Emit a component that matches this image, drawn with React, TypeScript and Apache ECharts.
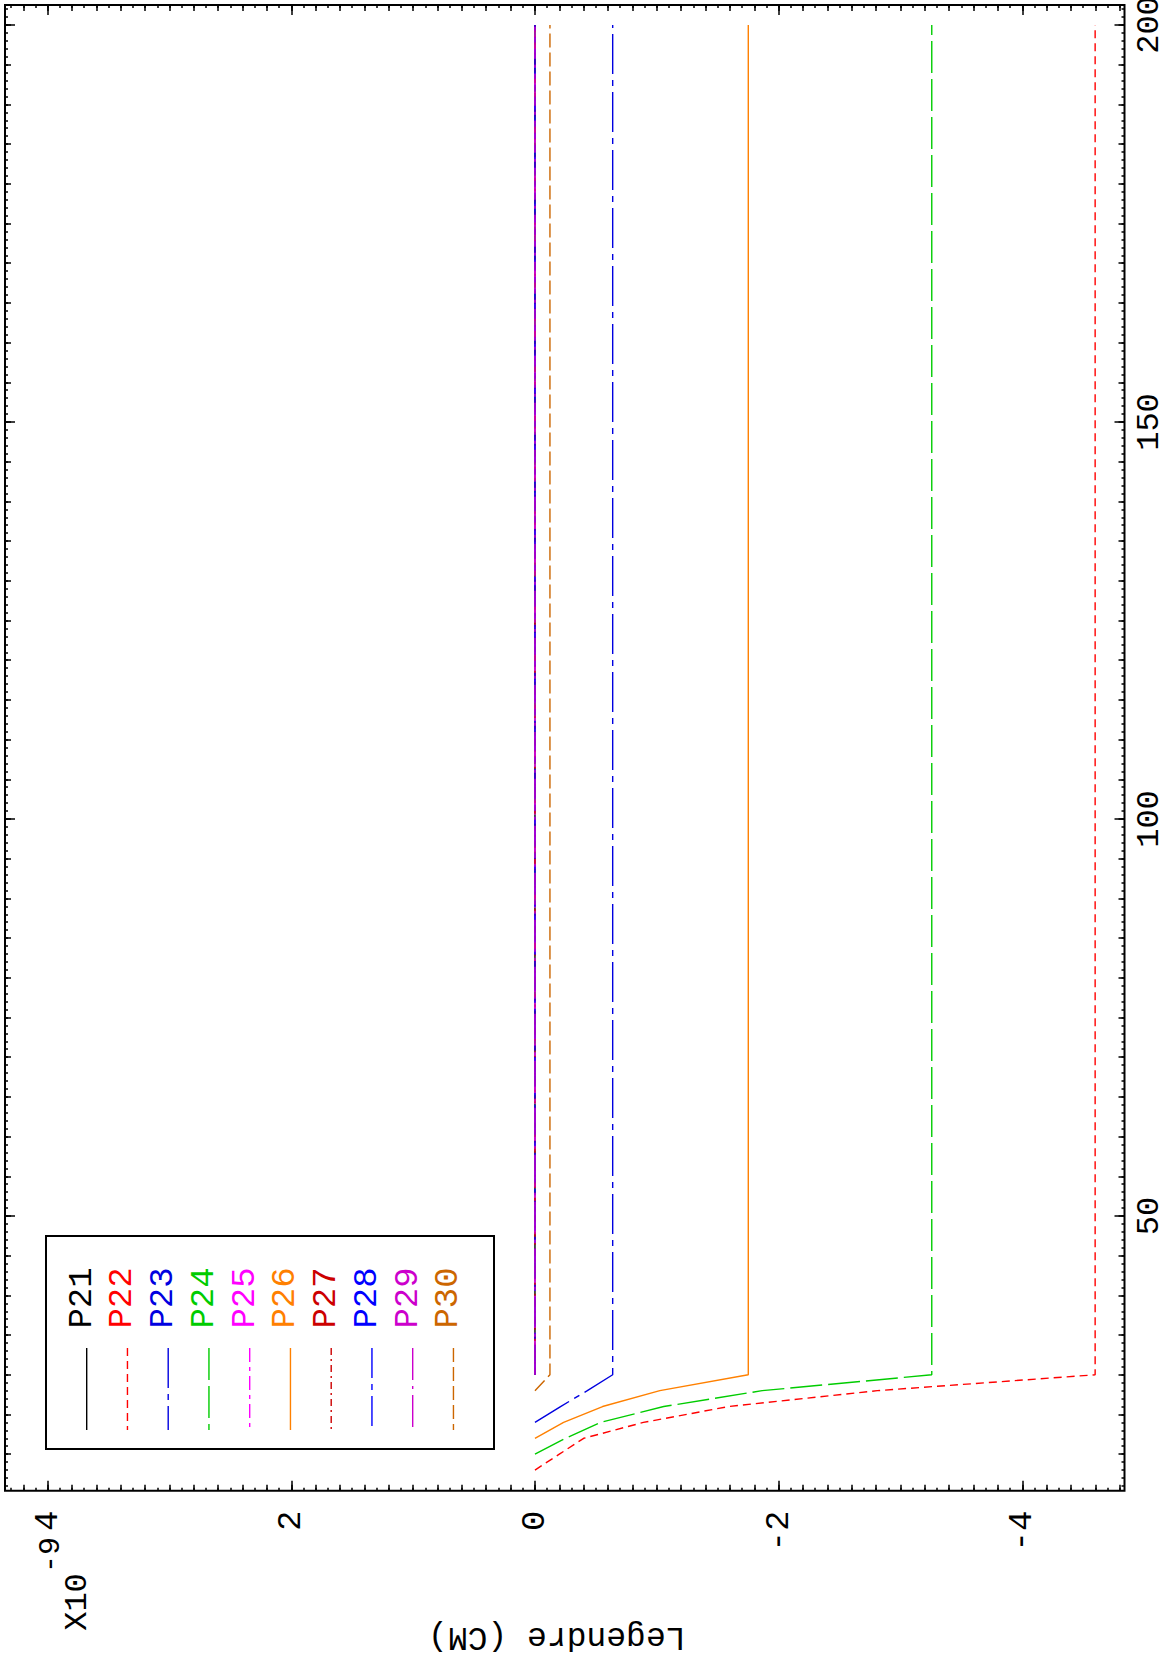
import React, { useEffect, useRef } from 'react';
import * as echarts from 'echarts';

// ---- data (depth in CM on the vertical axis, Legendre value x1e-9 on the horizontal axis)
const DEPTHS = [18, 20, 22, 24, 26, 28, 30, 200];
const P21 = [null, null, null, null, null, null, 0, 0];
const P22 = [0, -0.2, -0.4, -0.89, -1.59, -2.81, -4.598, -4.598];
const P23 = [null, null, null, 0, -0.21, -0.43, -0.638, -0.638];
const P24 = [null, 0, -0.25, -0.538, -1.057, -1.865, -3.257, -3.257];
const P25 = [null, null, null, null, null, null, 0, 0];
const P26 = [null, null, 0, -0.235, -0.555, -1.025, -1.751, -1.751];
const P27 = [null, null, null, null, null, null, 0, 0];
const P28 = [null, null, null, null, null, null, 0, 0];
const P29 = [null, null, null, null, null, null, 0, 0];
const P30 = [null, null, null, null, null, 0, -0.123, -0.123];

const SERIES_NAMES = ['P21', 'P22', 'P23', 'P24', 'P25', 'P26', 'P27', 'P28', 'P29', 'P30'];
const SERIES_VALUES = [P21, P22, P23, P24, P25, P26, P27, P28, P29, P30];
const SERIES_COLORS = ['#000000', '#ff0000', '#0000e0', '#00cc00', '#ff00ff', '#ff8000', '#cc0000', '#0000ff', '#cc00cc', '#cc6600'];
const SERIES_DASH: (number[] | 'solid')[] = [
  'solid', [8, 5], [40, 6, 6, 6], [32, 6], [14, 5, 4, 5], 'solid', [7, 4, 2, 4], [30, 6, 6, 6], [32, 6, 3, 6], [14, 5],
];

const VALUE_TICKS = [-4, -2, 0, 2, 4];
const DEPTH_TICKS = [50, 100, 150, 200];
const VALUE_RANGE = [-4.839, 4.35];
const DEPTH_RANGE = [15.4, 202.52];

const FONT = "'Liberation Mono', 'Courier New', monospace";

function stepTicks(lo: number, hi: number, step: number) {
  const out: number[] = [];
  const s = Math.ceil(lo / step - 1e-9);
  const e = Math.floor(hi / step + 1e-9);
  for (let k = s; k <= e; k++) out.push(+(k * step).toFixed(6));
  return out;
}

function xTickAxis(position: string, values: number[], length: number) {
  return {
    type: 'value', gridIndex: 0, position, inverse: true,
    min: VALUE_RANGE[0], max: VALUE_RANGE[1],
    axisLine: { show: false, onZero: false },
    axisTick: { show: true, inside: true, length, customValues: values, lineStyle: { color: '#000', width: 1.5 } },
    axisLabel: { show: false },
    splitLine: { show: false },
  };
}
function yTickAxis(position: string, values: number[], length: number) {
  return {
    type: 'value', gridIndex: 0, position,
    min: DEPTH_RANGE[0], max: DEPTH_RANGE[1],
    axisLine: { show: false, onZero: false },
    axisTick: { show: true, inside: true, length, customValues: values, lineStyle: { color: '#000', width: 1.5 } },
    axisLabel: { show: false },
    splitLine: { show: false },
  };
}

export default function App() {
  const ref = useRef<HTMLDivElement>(null);
  useEffect(() => {
    if (!ref.current) return;
    const chart = echarts.init(ref.current, undefined, { renderer: 'svg' });

    const vMed = stepTicks(VALUE_RANGE[0], VALUE_RANGE[1], 0.2);
    const vMin = stepTicks(VALUE_RANGE[0], VALUE_RANGE[1], 0.1);
    const dMed = stepTicks(DEPTH_RANGE[0], DEPTH_RANGE[1], 5);
    const dMin = stepTicks(DEPTH_RANGE[0], DEPTH_RANGE[1], 1);

    const mainX: any = xTickAxis('bottom', VALUE_TICKS, 10);
    mainX.axisLabel = {
      show: true, customValues: VALUE_TICKS, rotate: 90, align: 'right', verticalAlign: 'middle',
      margin: 20, padding: [0, 0, 19, 0], fontFamily: FONT, fontSize: 34, color: '#000',
      formatter: (v: number) => String(v),
    };
    mainX.name = 'Legendre (CM)';
    mainX.nameLocation = 'middle';
    mainX.nameGap = 146;
    mainX.nameRotate = 180;
    mainX.nameTextStyle = { fontFamily: FONT, fontSize: 33, color: '#000', align: 'center', verticalAlign: 'middle', padding: [0, 0, 0, 16] };

    const mainY: any = yTickAxis('right', DEPTH_TICKS, 10);
    mainY.axisLabel = {
      show: true, customValues: DEPTH_TICKS, rotate: 90, align: 'center', verticalAlign: 'middle',
      margin: 25, fontFamily: FONT, fontSize: 32, color: '#000',
      formatter: (v: number) => String(v),
    };

    const series = SERIES_NAMES.map((name, i) => {
      const vals = SERIES_VALUES[i];
      const data: number[][] = [];
      DEPTHS.forEach((d, k) => {
        const v = vals[k];
        if (v !== null && v !== undefined) data.push([v, d]);
      });
      return {
        name, type: 'line', xAxisIndex: 0, yAxisIndex: 0, data,
        symbol: 'none', showSymbol: false, smooth: false, clip: false,
        lineStyle: { color: SERIES_COLORS[i], width: 1.4, type: SERIES_DASH[i] },
        emphasis: { disabled: true },
      };
    });

    const legendEls: any[] = [];
    legendEls.push({
      type: 'rect', z: 10,
      shape: { x: 46, y: 1236, width: 448, height: 213 },
      style: { fill: '#ffffff', stroke: '#000', lineWidth: 2 },
    });
    SERIES_NAMES.forEach((name, i) => {
      legendEls.push({
        type: 'text', z: 11, x: 81.7 + 40.75 * i, y: 1298, rotation: Math.PI / 2,
        style: {
          text: name, fill: SERIES_COLORS[i], font: `34px ${FONT}`,
          align: 'center', verticalAlign: 'middle', textAlign: 'center', textVerticalAlign: 'middle',
        },
      });
      const dash = SERIES_DASH[i];
      legendEls.push({
        type: 'line', z: 11,
        shape: { x1: 86.7 + 40.75 * i, y1: 1348, x2: 86.7 + 40.75 * i, y2: 1430 },
        style: { stroke: SERIES_COLORS[i], lineWidth: 1.4, lineDash: dash === 'solid' ? null : dash },
      });
    });
    legendEls.push({
      type: 'text', z: 11, x: 77.5, y: 1602, rotation: Math.PI / 2,
      style: { text: 'X10', fill: '#000', font: `32px ${FONT}`, align: 'center', verticalAlign: 'middle', textAlign: 'center', textVerticalAlign: 'middle' },
    });
    legendEls.push({
      type: 'text', z: 11, x: 51, y: 1555, rotation: Math.PI / 2,
      style: { text: '-9', fill: '#000', font: `30px ${FONT}`, align: 'center', verticalAlign: 'middle', textAlign: 'center', textVerticalAlign: 'middle' },
    });

    chart.setOption({
      animation: false,
      backgroundColor: '#ffffff',
      grid: {
        left: 5, right: 42.5, top: 5, bottom: 168.3,
        show: true, borderColor: '#000', borderWidth: 2, backgroundColor: 'transparent',
        containLabel: false, outerBoundsMode: 'none',
      },
      xAxis: [
        mainX,
        xTickAxis('bottom', vMed, 6),
        xTickAxis('bottom', vMin, 3),
        xTickAxis('top', VALUE_TICKS, 10),
        xTickAxis('top', vMed, 6),
        xTickAxis('top', vMin, 3),
      ],
      yAxis: [
        mainY,
        yTickAxis('right', dMed, 6),
        yTickAxis('right', dMin, 3),
        yTickAxis('left', DEPTH_TICKS, 10),
        yTickAxis('left', dMed, 6),
        yTickAxis('left', dMin, 3),
      ],
      series,
      graphic: legendEls,
    });
    return () => chart.dispose();
  }, []);
  return <div ref={ref} style={{ position: 'absolute', left: 0, top: 0, width: 1167, height: 1659 }} />;
}
